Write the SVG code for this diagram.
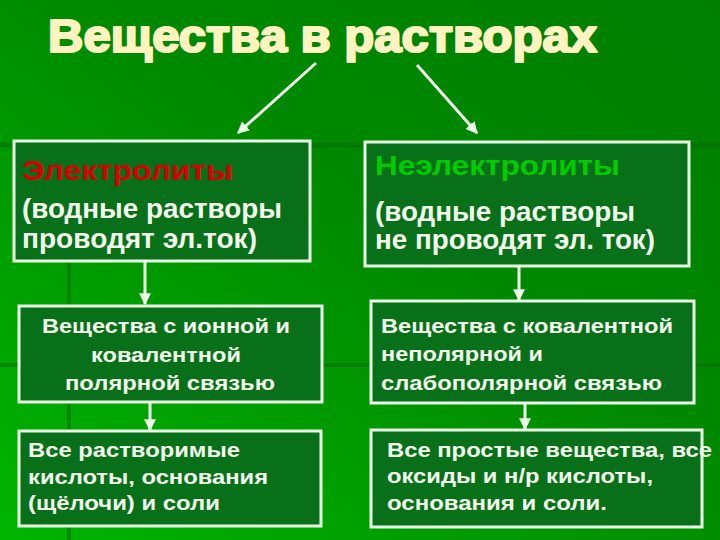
<svg xmlns="http://www.w3.org/2000/svg" width="720" height="540" viewBox="0 0 720 540">
<defs>
<linearGradient id="bg" x1="1" y1="0" x2="0" y2="1">
<stop offset="0" stop-color="#007e00"/>
<stop offset="0.45" stop-color="#008a00"/>
<stop offset="1" stop-color="#00b400"/>
</linearGradient>
<marker id="ah" viewBox="0 0 10 10" refX="9" refY="5" markerWidth="4" markerHeight="4" orient="auto" markerUnits="strokeWidth">
<path d="M0,0 L10,5 L0,10 z" fill="#eefcea"/>
</marker>
<style>
.box{fill:#087019;stroke:#eafbe6;stroke-width:3}
.t{font-family:"Liberation Sans",Arial,sans-serif;font-weight:bold;fill:#f2fbec}
.big{font-size:27px}
.sm{font-size:20px}
.con{stroke:#eefcea;stroke-width:3;fill:none;marker-end:url(#ah)}
.tpl{stroke:#006f00;fill:none;opacity:0.6}
</style>
</defs>
<rect width="720" height="540" fill="url(#bg)"/>
<g id="template">
<line class="tpl" x1="0" y1="145" x2="720" y2="145" stroke-width="5"/>
<line class="tpl" x1="0" y1="365" x2="720" y2="365" stroke-width="4"/>
<line class="tpl" x1="69" y1="145" x2="69" y2="540" stroke-width="4"/>
</g>
<g id="title">
<text x="48" y="52" class="t" style="font-size:46px;fill:#fff3c2;stroke:#fff3c2;stroke-width:2.2;stroke-linejoin:round" textLength="549" lengthAdjust="spacingAndGlyphs">Вещества в растворах</text>
</g>
<g id="connectors">
<line class="con" x1="316" y1="63" x2="238" y2="133"/>
<line class="con" x1="417" y1="65" x2="477" y2="133"/>
<line class="con" x1="145" y1="262" x2="145" y2="304"/>
<line class="con" x1="150" y1="403" x2="150" y2="430"/>
<line class="con" x1="519" y1="267" x2="519" y2="300"/>
<line class="con" x1="525" y1="404" x2="525" y2="429"/>
</g>
<g id="electrolytes">
<rect class="box" x="14" y="141" width="296" height="120"/>
<text x="22" y="180" class="t big" style="fill:#d80000" textLength="211" lengthAdjust="spacingAndGlyphs">Электролиты</text>
<text x="22" y="218" class="t big" textLength="260" lengthAdjust="spacingAndGlyphs">(водные растворы</text>
<text x="22" y="248" class="t big" textLength="235" lengthAdjust="spacingAndGlyphs">проводят эл.ток)</text>
</g>
<g id="nonelectrolytes">
<rect class="box" x="365" y="142" width="324" height="124"/>
<text x="375" y="175" class="t big" style="fill:#00cc00" textLength="245" lengthAdjust="spacingAndGlyphs">Неэлектролиты</text>
<text x="375" y="221" class="t big" textLength="260" lengthAdjust="spacingAndGlyphs">(водные растворы</text>
<text x="375" y="249" class="t big" textLength="280" lengthAdjust="spacingAndGlyphs">не проводят эл. ток)</text>
</g>
<g id="ionic">
<rect class="box" x="19" y="306" width="303" height="96"/>
<text x="166" y="333" class="t sm" text-anchor="middle" textLength="248" lengthAdjust="spacingAndGlyphs">Вещества с ионной и</text>
<text x="166" y="362" class="t sm" text-anchor="middle" textLength="150" lengthAdjust="spacingAndGlyphs">ковалентной</text>
<text x="170" y="390" class="t sm" text-anchor="middle" textLength="210" lengthAdjust="spacingAndGlyphs">полярной связью</text>
</g>
<g id="covalent">
<rect class="box" x="371" y="301" width="323" height="102"/>
<text x="381" y="333" class="t sm" textLength="292" lengthAdjust="spacingAndGlyphs">Вещества с ковалентной</text>
<text x="381" y="361" class="t sm" textLength="162" lengthAdjust="spacingAndGlyphs">неполярной и</text>
<text x="381" y="390" class="t sm" textLength="281" lengthAdjust="spacingAndGlyphs">слабополярной связью</text>
</g>
<g id="soluble">
<rect class="box" x="19" y="431" width="302" height="95"/>
<text x="28" y="457" class="t sm" textLength="212" lengthAdjust="spacingAndGlyphs">Все растворимые</text>
<text x="28" y="484" class="t sm" textLength="240" lengthAdjust="spacingAndGlyphs">кислоты, основания</text>
<text x="28" y="510" class="t sm" textLength="192" lengthAdjust="spacingAndGlyphs">(щёлочи) и соли</text>
</g>
<g id="simple">
<rect class="box" x="371" y="430" width="331" height="97"/>
<text x="387" y="457" class="t sm" textLength="325" lengthAdjust="spacingAndGlyphs">Все простые вещества, все</text>
<text x="387" y="483" class="t sm" textLength="266" lengthAdjust="spacingAndGlyphs">оксиды и н/р кислоты,</text>
<text x="387" y="510" class="t sm" textLength="220" lengthAdjust="spacingAndGlyphs">основания и соли.</text>
</g>
</svg>
